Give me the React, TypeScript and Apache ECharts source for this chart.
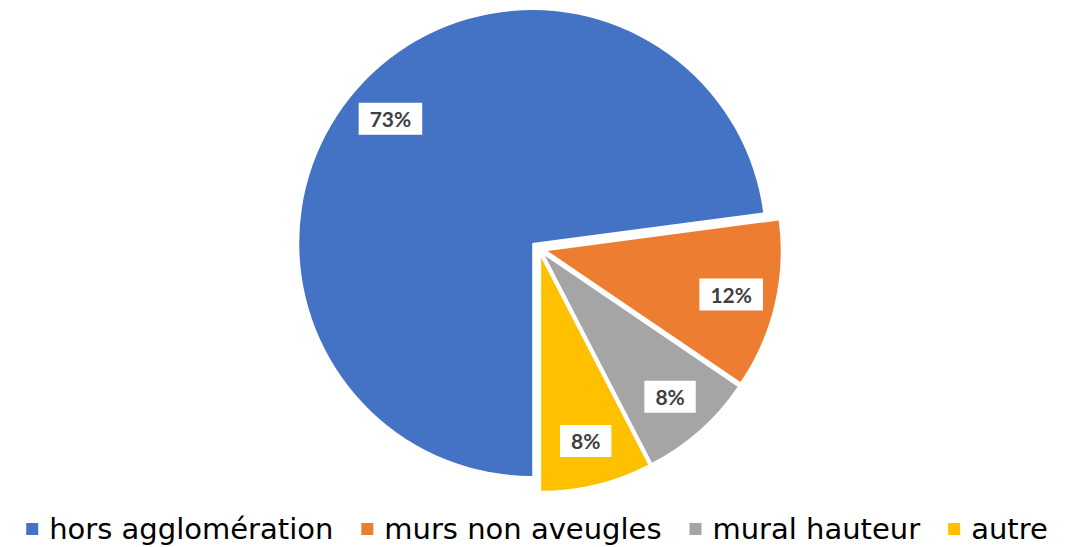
import React, { useEffect, useRef } from "react";
import * as echarts from "echarts";

const categories = ["hors agglomération", "murs non aveugles", "mural hauteur", "autre"];
const values = [72.9, 11.6, 7.9, 7.6];
const colors = ["#4472C4", "#ED7D31", "#A5A5A5", "#FFC000"];

export default function App() {
  const ref = useRef<HTMLDivElement>(null);
  useEffect(() => {
    if (!ref.current) return;
    const chart = echarts.init(ref.current, undefined, { renderer: "svg" });
    const data = categories.map((name, i) => ({
      name,
      value: values[i],
      selected: true,
      itemStyle: { color: colors[i] },
    }));
    const common = {
      type: "pie",
      center: [539, 249],
      startAngle: -90,
      clockwise: true,
      selectedMode: "multiple",
      selectedOffset: 9,
      emphasis: { disabled: true },
      labelLine: { show: false },
    };
    chart.setOption({
      animation: false,
      color: colors,
      legend: {
        top: 508,
        left: "center",
        itemWidth: 12,
        itemHeight: 12,
        itemGap: 28,
        icon: "rect",
        selectedMode: false,
        data: categories,
        textStyle: {
          fontFamily: "DejaVu Sans",
          fontSize: 29,
          lineHeight: 32,
          color: "#000",
          padding: [0, 0, 0, 6],
        },
      },
      series: [
        {
          ...common,
          radius: [0, 233],
          label: { show: false },
          data,
        },
        {
          ...common,
          radius: [138, 233],
          silent: true,
          z: 5,
          itemStyle: { color: "rgba(0,0,0,0)" },
          label: {
            show: true,
            position: "inside",
            formatter: (p: any) => Math.round(p.percent) + "%",
            backgroundColor: "#fff",
            color: "#404040",
            fontFamily: "Lato",
            fontWeight: "bold",
            fontSize: 21,
            lineHeight: 21,
            padding: [6, 11, 5, 11],
          },
          data: categories.map((name, i) => ({
            name,
            value: values[i],
            selected: true,
            itemStyle: { color: "rgba(0,0,0,0)" },
          })),
        },
      ],
    });
    return () => chart.dispose();
  }, []);
  return (
    <div
      ref={ref}
      style={{ position: "fixed", left: 0, top: 0, width: 1074, height: 547, background: "#fff" }}
    />
  );
}
